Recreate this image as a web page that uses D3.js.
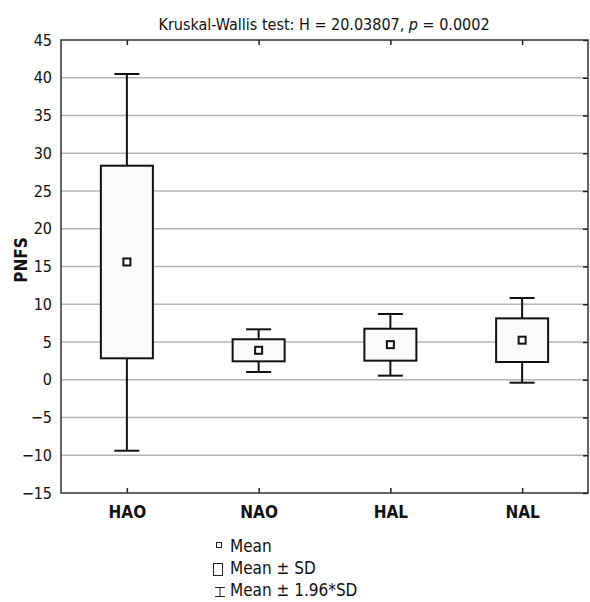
<!DOCTYPE html>
<html>
<head>
<meta charset="utf-8">
<script src="https://cdn.jsdelivr.net/npm/d3@7"></script>
<style>
  body { margin: 0; background: #fff; }
  text { font-family: "Liberation Sans Narrow", "DejaVu Sans Condensed", "Roboto", sans-serif; }
</style>
</head>
<body>
<div id="chart"></div>
<script>
// data
var groups = ['HAO', 'NAO', 'HAL', 'NAL'];
var means = [15.6, 3.9, 4.65, 5.24];
var boxLow = [2.84, 2.44, 2.53, 2.35];    // mean - SD
var boxHigh = [28.35, 5.36, 6.76, 8.13];  // mean + SD
var whiskerLow = [-9.4, 1.03, 0.54, -0.39];   // mean - 1.96*SD
var whiskerHigh = [40.5, 6.68, 8.71, 10.83];  // mean + 1.96*SD
var yTicks = [-15, -10, -5, 0, 5, 10, 15, 20, 25, 30, 35, 40, 45];

var data = groups.map(function (g, i) {
  return { g: g, mean: means[i], lo: boxLow[i], hi: boxHigh[i], wlo: whiskerLow[i], whi: whiskerHigh[i] };
});

var svgWidth = 590;
var svgHeight = 602;
var margin = { top: 40, right: 2, bottom: 109, left: 61 };
var width = svgWidth - margin.left - margin.right;
var height = svgHeight - margin.top - margin.bottom;

var svg = d3.select('#chart').append('svg')
  .attr('width', svgWidth)
  .attr('height', svgHeight);

var chartGroup = svg.append('g')
  .attr('transform', `translate(${margin.left}, ${margin.top})`);

var x = d3.scalePoint().domain(groups).range([0, width]).padding(0.5);
var y = d3.scaleLinear().domain([-15, 45]).range([height, 0]);

// gridlines
chartGroup.append('g')
  .selectAll('line')
  .data(yTicks.filter(function (t) { return t > -15 && t < 45; }))
  .enter().append('line')
  .attr('x1', 0).attr('x2', width)
  .attr('y1', function (d) { return y(d); })
  .attr('y2', function (d) { return y(d); })
  .attr('stroke', '#b4b4b4')
  .attr('stroke-width', 1.5);

// left axis with labels
var leftAxis = d3.axisLeft(y).tickValues(yTicks).tickSize(0).tickPadding(9)
  .tickFormat(function (d) { return d < 0 ? '\u2212' + Math.abs(d) : d; });
var yAxis = chartGroup.append('g').call(leftAxis);
yAxis.select('.domain').remove();
yAxis.selectAll('text').attr('font-size', 16).attr('fill', '#111');

// right inward ticks
chartGroup.append('g')
  .attr('transform', `translate(${width}, 0)`)
  .call(d3.axisLeft(y).tickValues(yTicks).tickSize(5).tickFormat(''))
  .call(function (g) { g.select('.domain').remove(); })
  .selectAll('line').attr('stroke', '#222').attr('stroke-width', 1.5);

// bottom axis: inward ticks and bold labels
var bottomAxis = d3.axisBottom(x).tickSize(-5).tickPadding(13);
var xAxis = chartGroup.append('g')
  .attr('transform', `translate(0, ${height})`)
  .call(bottomAxis);
xAxis.select('.domain').remove();
xAxis.selectAll('line').attr('stroke', '#222').attr('stroke-width', 1.5);
xAxis.selectAll('text').attr('font-size', 17).attr('font-weight', 'bold').attr('fill', '#111');

// top inward ticks
chartGroup.append('g')
  .call(d3.axisTop(x).tickSize(-5).tickFormat(''))
  .call(function (g) { g.select('.domain').remove(); })
  .selectAll('line').attr('stroke', '#222').attr('stroke-width', 1.5);

// frame
chartGroup.append('rect')
  .attr('width', width).attr('height', height)
  .attr('fill', 'none').attr('stroke', '#333').attr('stroke-width', 1.5);

// whiskers
var boxW = 52;
var capW = 25;
var boxes = chartGroup.selectAll('.box').data(data).enter()
  .append('g').attr('class', 'box')
  .attr('transform', function (d) { return `translate(${x(d.g)}, 0)`; });

boxes.append('line')
  .attr('x1', 0).attr('x2', 0)
  .attr('y1', function (d) { return y(d.whi); })
  .attr('y2', function (d) { return y(d.wlo); })
  .attr('stroke', '#111').attr('stroke-width', 2);
boxes.append('line')
  .attr('x1', -capW / 2).attr('x2', capW / 2)
  .attr('y1', function (d) { return y(d.whi); })
  .attr('y2', function (d) { return y(d.whi); })
  .attr('stroke', '#111').attr('stroke-width', 2);
boxes.append('line')
  .attr('x1', -capW / 2).attr('x2', capW / 2)
  .attr('y1', function (d) { return y(d.wlo); })
  .attr('y2', function (d) { return y(d.wlo); })
  .attr('stroke', '#111').attr('stroke-width', 2);

boxes.append('rect')
  .attr('x', -boxW / 2).attr('width', boxW)
  .attr('y', function (d) { return y(d.hi); })
  .attr('height', function (d) { return y(d.lo) - y(d.hi); })
  .attr('fill', '#fafafa').attr('stroke', '#111').attr('stroke-width', 2);

boxes.append('rect')
  .attr('x', -3.5).attr('width', 7)
  .attr('y', function (d) { return y(d.mean) - 3.5; })
  .attr('height', 7)
  .attr('fill', '#fff').attr('stroke', '#111').attr('stroke-width', 2);

// title
svg.append('text')
  .attr('x', 324).attr('y', 30)
  .attr('text-anchor', 'middle')
  .attr('font-size', 16)
  .attr('fill', '#111')
  .html('Kruskal-Wallis test: H = 20.03807, <tspan font-style="italic">p</tspan> = 0.0002');

// y label
svg.append('text')
  .attr('transform', `translate(27, 260) rotate(-90)`)
  .attr('text-anchor', 'middle')
  .attr('font-size', 17)
  .attr('font-weight', 'bold')
  .attr('fill', '#111')
  .text('PNFS');

// legend
var legend = svg.append('g');
legend.append('rect')
  .attr('x', 216.5).attr('y', 542.5).attr('width', 5).attr('height', 5)
  .attr('fill', '#fff').attr('stroke', '#222').attr('stroke-width', 1);
legend.append('rect')
  .attr('x', 213.5).attr('y', 563.5).attr('width', 9).attr('height', 12)
  .attr('fill', '#fff').attr('stroke', '#222').attr('stroke-width', 1);
legend.append('path')
  .attr('d', 'M215,587.5H225M220,587.5V596.5M215,596.5H225')
  .attr('fill', 'none').attr('stroke', '#222').attr('stroke-width', 1);
var legendLabels = ['Mean', 'Mean \u00b1 SD', 'Mean \u00b1 1.96*SD'];
legend.selectAll('.lt').data(legendLabels).enter()
  .append('text')
  .attr('x', 230)
  .attr('y', function (d, i) { return 552 + i * 22; })
  .attr('font-size', 17)
  .attr('fill', '#111')
  .text(function (d) { return d; });
</script>
</body>
</html>
